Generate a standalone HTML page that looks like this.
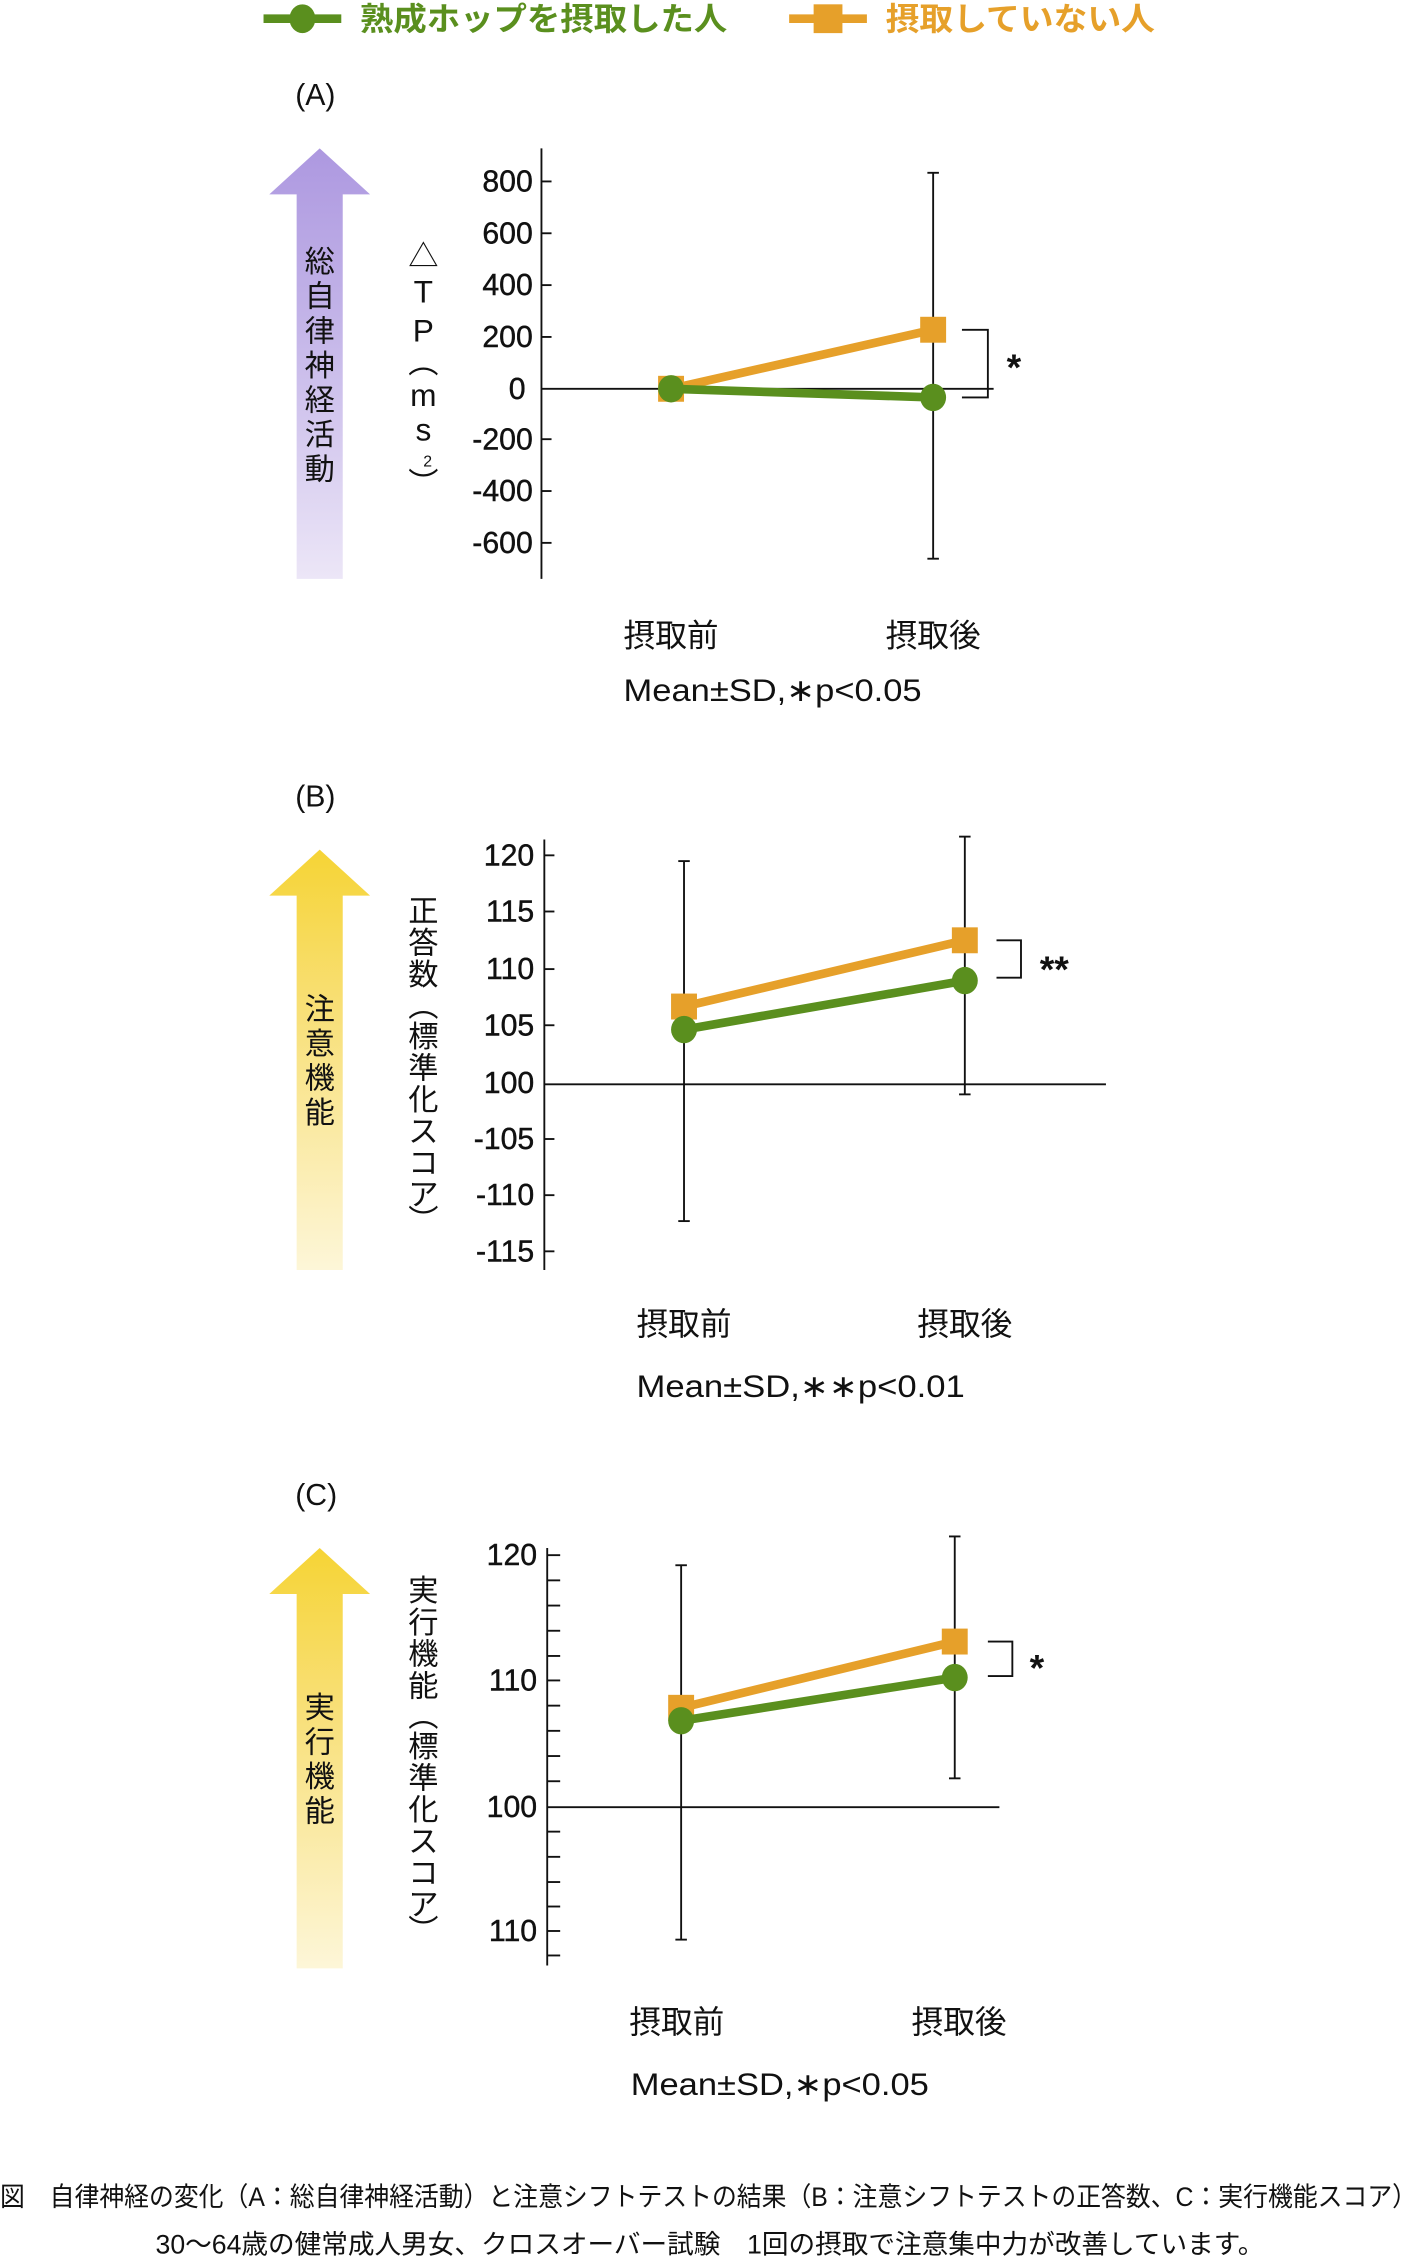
<!DOCTYPE html>
<html><head><meta charset="utf-8"><style>
html,body{margin:0;padding:0;background:#fff;}
svg{display:block;}
text{font-family:"Liberation Sans","Noto Sans CJK JP",sans-serif;fill:#111;}
.t{font-size:21px;}
.n{font-size:21px;font-weight:500;stroke:#111;stroke-width:0.3;}
.x{font-size:22px;text-anchor:middle;}
.v{font-size:21px;text-anchor:middle;}
</style></head><body>
<svg width="1417" height="2257" viewBox="0 0 984 1567.4" preserveAspectRatio="none" xmlns="http://www.w3.org/2000/svg">
<defs>
<linearGradient id="gp" x1="0" y1="0" x2="0" y2="1"><stop offset="0" stop-color="#ad98e0"/><stop offset="0.4" stop-color="#c3b4e8"/><stop offset="1" stop-color="#ece6f7"/></linearGradient>
<linearGradient id="gy" x1="0" y1="0" x2="0" y2="1"><stop offset="0" stop-color="#f6d435"/><stop offset="0.4" stop-color="#f8e07a"/><stop offset="1" stop-color="#fdf6d8"/></linearGradient>
</defs>
<!-- Legend -->
<line x1="183" y1="13" x2="237" y2="13" stroke="#5a8f1e" stroke-width="6"/>
<ellipse cx="210" cy="13" rx="9" ry="10" fill="#5a8f1e"/>
<text x="250" y="21" textLength="255" lengthAdjust="spacingAndGlyphs" style="font-size:22px;font-weight:bold;fill:#5a8f1e">熟成ホップを摂取した人</text>
<line x1="548" y1="13" x2="602" y2="13" stroke="#e6a02a" stroke-width="6"/>
<rect x="565" y="3" width="20" height="20" fill="#e6a02a"/>
<text x="615" y="21" textLength="187" lengthAdjust="spacingAndGlyphs" style="font-size:22px;font-weight:bold;fill:#e6a02a">摂取していない人</text>

<!-- Panel A -->
<text x="205" y="73" style="font-size:21px">(A)</text>
<polygon points="222,103 257,135 238,135 238,402 206,402 206,135 187,135" fill="url(#gp)"/>
<g class="v">
<text x="222" y="189">総</text><text x="222" y="213">自</text><text x="222" y="237">律</text><text x="222" y="261">神</text><text x="222" y="285">経</text><text x="222" y="309">活</text><text x="222" y="333">動</text>
<text x="294" y="185">△</text><text x="294" y="210" style="font-size:22px">T</text><text x="294" y="237" style="font-size:22px">P</text><text x="294" y="259">︵</text><text x="294" y="282" style="font-size:22px">m</text><text x="294" y="306" style="font-size:22px">s</text><text x="297" y="324" style="font-size:11px">2</text><text x="294" y="343">︶</text>
</g>
<g stroke="#111" stroke-width="1.3" fill="none">
<line x1="376" y1="103" x2="376" y2="402"/>
<line x1="376" y1="126" x2="383" y2="126"/><line x1="376" y1="162" x2="383" y2="162"/><line x1="376" y1="198" x2="383" y2="198"/><line x1="376" y1="234" x2="383" y2="234"/><line x1="376" y1="305" x2="383" y2="305"/><line x1="376" y1="341" x2="383" y2="341"/><line x1="376" y1="377" x2="383" y2="377"/>
<line x1="376" y1="270" x2="690" y2="270"/>
<line x1="648" y1="120" x2="648" y2="388"/><line x1="644" y1="120" x2="652" y2="120"/><line x1="644" y1="388" x2="652" y2="388"/>
<polyline points="668,229 686,229 686,276 668,276"/>
</g>
<g class="n" text-anchor="end">
<text x="370" y="133">800</text><text x="370" y="169">600</text><text x="370" y="205">400</text><text x="370" y="241">200</text><text x="365" y="277">0</text><text x="370" y="312">-200</text><text x="370" y="348">-400</text><text x="370" y="384">-600</text>
</g>
<line x1="466" y1="270" x2="648" y2="229" stroke="#e6a02a" stroke-width="6"/>
<rect x="457" y="261" width="18" height="18" fill="#e6a02a"/>
<rect x="639" y="220" width="18" height="18" fill="#e6a02a"/>
<line x1="466" y1="270" x2="648" y2="276" stroke="#5a8f1e" stroke-width="6"/>
<ellipse cx="466" cy="270" rx="9" ry="9.5" fill="#5a8f1e"/>
<ellipse cx="648" cy="276" rx="9" ry="9.5" fill="#5a8f1e"/>
<text x="699" y="264" style="font-size:26px;font-weight:bold">*</text>
<text x="466" y="449" class="x">摂取前</text>
<text x="648" y="449" class="x">摂取後</text>
<text x="433" y="487" style="font-size:22px" textLength="207" lengthAdjust="spacingAndGlyphs">Mean±SD,∗p&lt;0.05</text>

<!-- Panel B -->
<text x="205" y="560" style="font-size:21px">(B)</text>
<polygon points="222,590 257,622 238,622 238,882 206,882 206,622 187,622" fill="url(#gy)"/>
<g class="v">
<text x="222" y="708">注</text><text x="222" y="732">意</text><text x="222" y="756">機</text><text x="222" y="780">能</text>
<text x="294" y="640">正</text><text x="294" y="662">答</text><text x="294" y="684">数</text><text x="294" y="706">︵</text><text x="294" y="727">標</text><text x="294" y="749">準</text><text x="294" y="771">化</text><text x="294" y="793">ス</text><text x="294" y="815">コ</text><text x="294" y="837">ア</text><text x="294" y="855">︶</text>
</g>
<g stroke="#111" stroke-width="1.3" fill="none">
<line x1="378" y1="583" x2="378" y2="882"/>
<line x1="378" y1="594" x2="385" y2="594"/><line x1="378" y1="633" x2="385" y2="633"/><line x1="378" y1="673" x2="385" y2="673"/><line x1="378" y1="712" x2="385" y2="712"/><line x1="378" y1="791" x2="385" y2="791"/><line x1="378" y1="830" x2="385" y2="830"/><line x1="378" y1="869" x2="385" y2="869"/>
<line x1="378" y1="753" x2="768" y2="753"/>
<line x1="475" y1="598" x2="475" y2="848"/><line x1="471" y1="598" x2="479" y2="598"/><line x1="471" y1="848" x2="479" y2="848"/>
<line x1="670" y1="581" x2="670" y2="760"/><line x1="666" y1="581" x2="674" y2="581"/><line x1="666" y1="760" x2="674" y2="760"/>
<polyline points="692,653 709,653 709,679 692,679"/>
</g>
<g class="n" text-anchor="end">
<text x="371" y="601">120</text><text x="371" y="640">115</text><text x="371" y="680">110</text><text x="371" y="719">105</text><text x="371" y="759">100</text><text x="371" y="798">-105</text><text x="371" y="837">-110</text><text x="371" y="876">-115</text>
</g>
<line x1="475" y1="699" x2="670" y2="653" stroke="#e6a02a" stroke-width="6"/>
<rect x="466" y="690" width="18" height="18" fill="#e6a02a"/>
<rect x="661" y="644" width="18" height="18" fill="#e6a02a"/>
<line x1="475" y1="715" x2="670" y2="681" stroke="#5a8f1e" stroke-width="6"/>
<ellipse cx="475" cy="715" rx="9" ry="9.5" fill="#5a8f1e"/>
<ellipse cx="670" cy="681" rx="9" ry="9.5" fill="#5a8f1e"/>
<text x="722" y="682" style="font-size:26px;font-weight:bold">**</text>
<text x="475" y="927" class="x">摂取前</text>
<text x="670" y="927" class="x">摂取後</text>
<text x="442" y="970" style="font-size:22px" textLength="228" lengthAdjust="spacingAndGlyphs">Mean±SD,∗∗p&lt;0.01</text>

<!-- Panel C -->
<text x="205" y="1045" style="font-size:21px">(C)</text>
<polygon points="222,1075 257,1107 238,1107 238,1367 206,1367 206,1107 187,1107" fill="url(#gy)"/>
<g class="v">
<text x="222" y="1193">実</text><text x="222" y="1217">行</text><text x="222" y="1241">機</text><text x="222" y="1265">能</text>
<text x="294" y="1112">実</text><text x="294" y="1134">行</text><text x="294" y="1156">機</text><text x="294" y="1178">能</text><text x="294" y="1199">︵</text><text x="294" y="1220">標</text><text x="294" y="1242">準</text><text x="294" y="1264">化</text><text x="294" y="1286">ス</text><text x="294" y="1308">コ</text><text x="294" y="1330">ア</text><text x="294" y="1348">︶</text>
</g>
<g stroke="#111" stroke-width="1.3" fill="none">
<line x1="380" y1="1075" x2="380" y2="1365"/>
<line x1="380" y1="1080" x2="389" y2="1080"/><line x1="380" y1="1097.5" x2="389" y2="1097.5"/><line x1="380" y1="1115" x2="389" y2="1115"/><line x1="380" y1="1132.5" x2="389" y2="1132.5"/><line x1="380" y1="1150" x2="389" y2="1150"/><line x1="380" y1="1167" x2="389" y2="1167"/><line x1="380" y1="1184.5" x2="389" y2="1184.5"/><line x1="380" y1="1202" x2="389" y2="1202"/><line x1="380" y1="1219.5" x2="389" y2="1219.5"/><line x1="380" y1="1237" x2="389" y2="1237"/><line x1="380" y1="1272" x2="389" y2="1272"/><line x1="380" y1="1289.5" x2="389" y2="1289.5"/><line x1="380" y1="1307" x2="389" y2="1307"/><line x1="380" y1="1324" x2="389" y2="1324"/><line x1="380" y1="1341" x2="389" y2="1341"/><line x1="380" y1="1358" x2="389" y2="1358"/>
<line x1="380" y1="1255" x2="694" y2="1255"/>
<line x1="473" y1="1087" x2="473" y2="1347"/><line x1="469" y1="1087" x2="477" y2="1087"/><line x1="469" y1="1347" x2="477" y2="1347"/>
<line x1="663" y1="1067" x2="663" y2="1235"/><line x1="659" y1="1067" x2="667" y2="1067"/><line x1="659" y1="1235" x2="667" y2="1235"/>
<polyline points="686,1140 703,1140 703,1164 686,1164"/>
</g>
<g class="n" text-anchor="end">
<text x="373" y="1087">120</text><text x="373" y="1174">110</text><text x="373" y="1262">100</text><text x="373" y="1348">110</text>
</g>
<line x1="473" y1="1186" x2="663" y2="1140" stroke="#e6a02a" stroke-width="6"/>
<rect x="464" y="1177" width="18" height="18" fill="#e6a02a"/>
<rect x="654" y="1131" width="18" height="18" fill="#e6a02a"/>
<line x1="473" y1="1195" x2="663" y2="1165" stroke="#5a8f1e" stroke-width="6"/>
<ellipse cx="473" cy="1195" rx="9" ry="9.5" fill="#5a8f1e"/>
<ellipse cx="663" cy="1165" rx="9" ry="9.5" fill="#5a8f1e"/>
<text x="715" y="1167" style="font-size:26px;font-weight:bold">*</text>
<text x="470" y="1412" class="x">摂取前</text>
<text x="666" y="1412" class="x">摂取後</text>
<text x="438" y="1455" style="font-size:22px" textLength="207" lengthAdjust="spacingAndGlyphs">Mean±SD,∗p&lt;0.05</text>

<!-- Caption -->
<text x="0" y="1532" style="font-size:18.5px" textLength="984" lengthAdjust="spacingAndGlyphs">図　自律神経の変化（A：総自律神経活動）と注意シフトテストの結果（B：注意シフトテストの正答数、C：実行機能スコア）</text>
<text x="108" y="1565" style="font-size:18.5px" textLength="770" lengthAdjust="spacingAndGlyphs">30〜64歳の健常成人男女、クロスオーバー試験　1回の摂取で注意集中力が改善しています。</text>
</svg>
</body></html>
